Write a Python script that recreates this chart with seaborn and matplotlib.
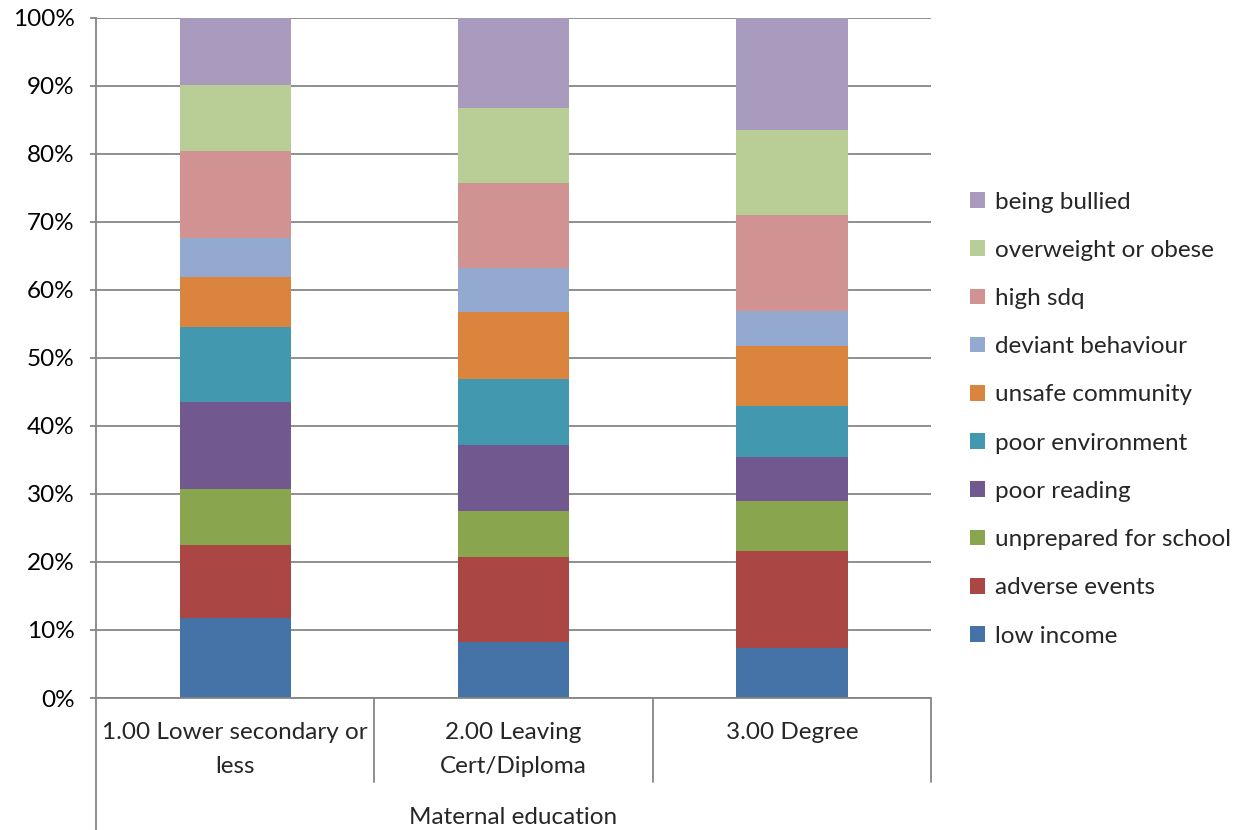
import matplotlib
matplotlib.use("Agg")
import matplotlib.pyplot as plt
from matplotlib.ticker import PercentFormatter
import numpy as np
import pandas as pd
import seaborn as sns

# Share of each risk factor within each maternal-education group (%)
groups = ["1.00 Lower secondary or\nless", "2.00 Leaving\nCert/Diploma", "3.00 Degree"]
factors = ["low income", "adverse events", "unprepared for school", "poor reading",
           "poor environment", "unsafe community", "deviant behaviour", "high sdq",
           "overweight or obese", "being bullied"]
low_income = [11.7, 8.3, 7.3]
adverse_events = [10.8, 12.4, 14.3]
unprepared_for_school = [8.2, 6.8, 7.4]
poor_reading = [12.8, 9.7, 6.5]
poor_environment = [11.0, 9.7, 7.5]
unsafe_community = [7.4, 9.9, 8.7]
deviant_behaviour = [5.8, 6.4, 5.2]
high_sdq = [12.8, 12.6, 14.1]
overweight_or_obese = [9.6, 10.9, 12.5]
being_bullied = [9.9, 13.3, 16.5]
colors = ["#4572A7", "#AA4643", "#89A54E", "#71588F", "#4198AF",
          "#DB843D", "#93A9CF", "#D19392", "#B9CD96", "#A99BBD"]

series = [low_income, adverse_events, unprepared_for_school, poor_reading,
          poor_environment, unsafe_community, deviant_behaviour, high_sdq,
          overweight_or_obese, being_bullied]

values = np.array(series, dtype=float)
shares = values / values.sum(axis=0) * 100  # 100% stacked

sns.set_style("white")
plt.rcParams["font.family"] = ["Lato", "DejaVu Sans"]
FS = 17.5

fig = plt.figure(figsize=(12.38, 8.30), dpi=100)
ax = fig.add_axes([96 / 1238, 132 / 830, (931 - 96) / 1238, 680 / 830])

grid_col = "#868686"
bottom = np.zeros(len(groups))
for name, share, col in zip(factors, shares, colors):
    df = pd.DataFrame({"group": groups, "share": share})
    sns.barplot(data=df, x="group", y="share", color=col, width=0.4,
                saturation=1, bottom=bottom, linewidth=0, label=name,
                ax=ax, zorder=3)
    bottom = bottom + share

if ax.get_legend() is not None:
    ax.get_legend().remove()

ax.set_xlim(-0.5, 2.5)
ax.set_ylim(0, 100)
ax.set_yticks(np.arange(0, 101, 10))
ax.yaxis.set_major_formatter(PercentFormatter(decimals=0))
ax.grid(axis="y", color=grid_col, linewidth=1.3, zorder=0)
ax.set_axisbelow(True)
for side in ["top", "right", "bottom"]:
    ax.spines[side].set_visible(False)
ax.spines["left"].set_color(grid_col)
ax.spines["left"].set_linewidth(1.3)
ax.tick_params(axis="y", length=4.5, width=1.3, color=grid_col, labelsize=FS,
               labelcolor="black", pad=11, left=True)
ax.set_xticks([])
ax.set_xlabel("")
ax.set_ylabel("")

# Category axis drawn as a boxed grouping beneath the plot
trans = ax.get_xaxis_transform()
ax.plot([-0.5, 2.5], [0, 0], transform=trans, color=grid_col, lw=1.3, clip_on=False, zorder=4)
ax.plot([-0.5, -0.5], [0, -132 / 680], transform=trans, color=grid_col, lw=1.3, clip_on=False)
for xd in [0.5, 1.5, 2.5]:
    ax.plot([xd, xd], [0, -84 / 680], transform=trans, color=grid_col, lw=1.3, clip_on=False)
for i, g in enumerate(groups):
    ax.text(i, -24 / 680, g, transform=trans, ha="center", va="top",
            fontsize=FS, linespacing=1.74)
ax.text(1, -109 / 680, "Maternal education", transform=trans, ha="center",
        va="top", fontsize=FS)

handles, labels = ax.get_legend_handles_labels()
leg = fig.legend(handles[::-1], labels[::-1], loc="center left",
                 bbox_to_anchor=(948 / 1238, 1 - 419 / 830), frameon=False,
                 fontsize=FS, handlelength=0.62, handleheight=0.62,
                 handletextpad=0.4, labelspacing=1.12)

fig.savefig("out.png", dpi=100)
